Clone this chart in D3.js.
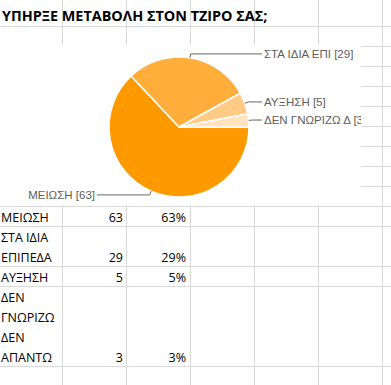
<!DOCTYPE html>
<html>
<head>
<meta charset="utf-8">
<script src="https://cdn.jsdelivr.net/npm/d3@7"></script>
<style>
  body { margin: 0; background: #fff; }
</style>
</head>
<body>
<div id="sheet"></div>
<script>
// data read from the sheet
var title = "ΥΠΗΡΞΕ ΜΕΤΑΒΟΛΗ ΣΤΟΝ ΤΖΙΡΟ ΣΑΣ;";
var categories = ["ΜΕΙΩΣΗ", "ΣΤΑ ΙΔΙΑ ΕΠΙΠΕΔΑ", "ΑΥΞΗΣΗ", "ΔΕΝ ΓΝΩΡΙΖΩ ΔΕΝ ΑΠΑΝΤΩ"];
var cellLines = [["ΜΕΙΩΣΗ"], ["ΣΤΑ ΙΔΙΑ", "ΕΠΙΠΕΔΑ"], ["ΑΥΞΗΣΗ"], ["ΔΕΝ", "ΓΝΩΡΙΖΩ", "ΔΕΝ", "ΑΠΑΝΤΩ"]];
var counts = [63, 29, 5, 3];
var pieLabels = ["ΜΕΙΩΣΗ [63]", "ΣΤΑ ΙΔΙΑ ΕΠΙ [29]", "ΑΥΞΗΣΗ [5]", "ΔΕΝ ΓΝΩΡΙΖΩ Δ [3]"];
var colors = ["#ff9900", "#ffad3b", "#ffcb85", "#ffe3bd"];

var W = 391, H = 385;
var colW = 64, rowH = 20;
var gridColor = "#d9d9dc";

var svg = d3.select("#sheet").append("svg")
    .attr("width", W)
    .attr("height", H);

// spreadsheet grid
var colX = d3.range(0, 7).map(function(i) { return -2 + i * colW; });
var tableTop = 206;
var rowCount = cellLines.map(function(l) { return l.length; });
var rowTops = [tableTop];
rowCount.forEach(function(n, i) { rowTops.push(rowTops[i] + n * rowH); });
rowTops.push(rowTops[rowTops.length - 1] + rowH);
var hLines = [26].concat(d3.range(46, tableTop, rowH)).concat(rowTops);

var grid = svg.append("g").attr("stroke", gridColor).attr("stroke-width", 1);
grid.selectAll("line.v")
  .data(colX.slice(1))
  .enter().append("line")
    .attr("x1", function(d) { return d + 0.5; })
    .attr("x2", function(d) { return d + 0.5; })
    .attr("y1", 0).attr("y2", H);
grid.selectAll("line.h")
  .data(hLines)
  .enter().append("line")
    .attr("x1", 0).attr("x2", W)
    .attr("y1", function(d) { return d + 0.5; })
    .attr("y2", function(d) { return d + 0.5; });

// title
svg.append("text")
    .attr("x", 2)
    .attr("y", 20.5)
    .attr("font-family", "'Open Sans', sans-serif")
    .attr("font-weight", "bold")
    .attr("font-size", "14.4px")
    .attr("fill", "#000")
    .text(title);

// table
var fmtPct = d3.format(".0%");
var total = d3.sum(counts);
var tableFont = "'Open Sans', sans-serif";
var rows = svg.append("g")
    .attr("font-family", tableFont)
    .attr("font-size", "12.5px")
    .attr("fill", "#000");

rows.selectAll("g")
  .data(categories)
  .enter().append("g")
  .each(function(d, i) {
    var g = d3.select(this);
    cellLines[i].forEach(function(line, j) {
      g.append("text")
        .attr("x", 1)
        .attr("y", rowTops[i] + (j + 1) * rowH - 4)
        .text(line);
    });
    var base = rowTops[i + 1] - 4;
    g.append("text")
      .attr("x", colX[2] - 3)
      .attr("y", base)
      .attr("text-anchor", "end")
      .text(counts[i]);
    g.append("text")
      .attr("x", colX[3] - 4)
      .attr("y", base)
      .attr("text-anchor", "end")
      .text(fmtPct(counts[i] / total));
  });

// chart object
var chart = { x: 0, y: 45, w: 361, h: 160 };
svg.append("clipPath").attr("id", "chartClip")
  .append("rect")
    .attr("x", chart.x).attr("y", chart.y)
    .attr("width", chart.w).attr("height", chart.h);

var cg = svg.append("g").attr("clip-path", "url(#chartClip)");
cg.append("rect")
    .attr("x", chart.x).attr("y", chart.y)
    .attr("width", chart.w).attr("height", chart.h)
    .attr("fill", "#fff");

var cx = 179, cy = 127, r = 70;
var pie = d3.pie()
    .sort(null)
    .startAngle(Math.PI / 2)
    .endAngle(Math.PI / 2 + 2 * Math.PI)
    .value(function(d) { return d; });
var arcs = pie(counts);
var arc = d3.arc().innerRadius(0).outerRadius(r);

var pg = cg.append("g").attr("transform", "translate(" + cx + "," + cy + ")");
pg.selectAll("path")
  .data(arcs)
  .enter().append("path")
    .attr("d", arc)
    .attr("fill", function(d, i) { return colors[i]; })
    .attr("stroke", "#fff")
    .attr("stroke-width", 1.5);

// leader lines + labels
function pt(a, rad) { return [rad * Math.sin(a), -rad * Math.cos(a)]; }
var labelG = pg.append("g")
    .attr("font-family", "'Liberation Sans', Arial, sans-serif")
    .attr("font-size", "11.5px")
    .attr("fill", "#5e5e5e");

arcs.forEach(function(d, i) {
  var mid = (d.startAngle + d.endAngle) / 2;
  var p0 = pt(mid, r), p1 = pt(mid, r + 4);
  var right = p1[0] > 0;
  var xEnd = right ? 83 : -82;
  labelG.append("path")
    .attr("d", "M" + p0 + "L" + p1 + "L" + [xEnd, p1[1]])
    .attr("fill", "none")
    .attr("stroke", "#666")
    .attr("stroke-width", 1);
  labelG.append("text")
    .attr("x", right ? xEnd + 2 : xEnd - 2)
    .attr("y", p1[1])
    .attr("dy", "0.35em")
    .attr("text-anchor", right ? "start" : "end")
    .text(pieLabels[i]);
});
</script>
</body>
</html>
